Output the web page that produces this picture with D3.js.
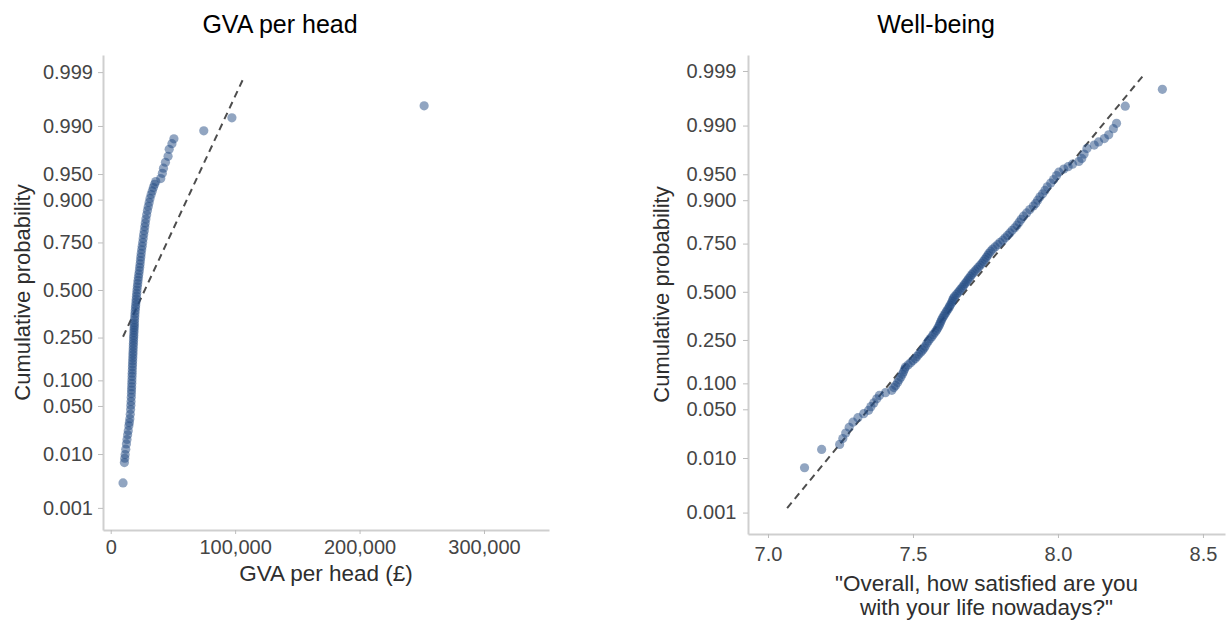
<!DOCTYPE html>
<html><head><meta charset="utf-8">
<script src="https://cdn.jsdelivr.net/npm/d3@7"></script>
<style>
body{margin:0;background:#fff}
svg{display:block}
text{font-family:"Liberation Sans",Arial,sans-serif}
</style>
</head><body>
<svg id="chart" width="1226" height="621"></svg>
<script>
// ---------- data ----------
const probTicks = [0.001, 0.01, 0.05, 0.1, 0.25, 0.5, 0.75, 0.9, 0.95, 0.99, 0.999];
const gvaTicks = [0, 100000, 200000, 300000];
const wellbeingTicks = [7.0, 7.5, 8.0, 8.5];
const panelTitles = ["GVA per head", "Well-being"];
const yTitle = "Cumulative probability";
const gvaXTitle = ["GVA per head (£)"];
const wellbeingXTitle = ["\"Overall, how satisfied are you", "with your life nowadays?\""];

const gvaValues = [
  9900, 11000, 11300, 11600, 12100, 12600, 13100, 13600, 14100, 14600,
  15000, 15400, 15700, 16000, 16200, 16350, 16500, 16650, 16750, 16850,
  16950, 17050, 17150, 17250, 17350, 17450, 17550, 17650, 17750, 17850,
  17950, 18050, 18150, 18250, 18350, 18450, 18550, 18650, 18750, 18850,
  18950, 19050, 19200, 19350, 19500, 19700, 19900, 20100, 20300, 20500,
  20700, 20900, 21100, 21400, 21700, 22000, 22300, 22600, 23000, 23300,
  23600, 23900, 24200, 24500, 24900, 25300, 25700, 26100, 26500, 27000,
  27400, 27800, 28300, 28900, 29500, 30200, 30900, 31600, 32500, 33400,
  34300, 35300, 36200, 40200, 41500, 42400, 44000, 46100, 47000, 49200,
  50800, 74800, 97400, 251900
];
const gvaProbs = [
  .0031, .0072, .0085, .0098, .012, .0145, .017, .020, .023, .027,
  .030, .034, .039, .045, .051, .057, .064, .071, .078, .085,
  .093, .101, .110, .119, .128, .138, .148, .158, .168, .179,
  .190, .201, .213, .225, .237, .249, .261, .273, .285, .297,
  .309, .321, .336, .352, .368, .384, .400, .416, .432, .448,
  .465, .482, .500, .518, .536, .554, .572, .590, .608, .626,
  .644, .662, .680, .698, .716, .733, .750, .767, .784, .800,
  .815, .829, .843, .857, .870, .882, .893, .903, .912, .920,
  .927, .933, .938, .943, .951, .958, .965, .971, .977, .981,
  .984, .988, .9927, .9955
];
const gvaFit = [27400, 26400];        // normal fit: mean, sd
const gvaLineX = [9900, 106600];      // extent of reference line

const wellbeingValues = [
  7.126, 7.185, 7.247, 7.258, 7.268, 7.280, 7.293, 7.310, 7.330, 7.347,
  7.355, 7.365, 7.375, 7.384, 7.405, 7.427, 7.434, 7.440, 7.447, 7.452,
  7.458, 7.463, 7.467, 7.471, 7.474, 7.483, 7.492, 7.500, 7.508, 7.514,
  7.520, 7.527, 7.533, 7.538, 7.542, 7.548, 7.553, 7.559, 7.565, 7.570,
  7.576, 7.581, 7.585, 7.589, 7.592, 7.595, 7.598, 7.601, 7.605, 7.609,
  7.613, 7.617, 7.621, 7.625, 7.628, 7.632, 7.635, 7.637, 7.640, 7.644,
  7.650, 7.655, 7.660, 7.665, 7.670, 7.675, 7.679, 7.684, 7.689, 7.693,
  7.698, 7.703, 7.708, 7.714, 7.720, 7.726, 7.732, 7.738, 7.743, 7.748,
  7.753, 7.758, 7.762, 7.768, 7.775, 7.783, 7.792, 7.800, 7.810, 7.818,
  7.826, 7.834, 7.842, 7.851, 7.859, 7.866, 7.873, 7.881, 7.892, 7.903,
  7.915, 7.923, 7.930, 7.938, 7.947, 7.955, 7.963, 7.975, 7.985, 7.995,
  8.003, 8.020, 8.035, 8.050, 8.072, 8.082, 8.090, 8.100, 8.125, 8.140,
  8.160, 8.175, 8.191, 8.202, 8.232, 8.360
];
const wellbeingProbs = [
  .0069, .0137, .0163, .020, .024, .029, .034, .039, .044, .0485,
  .054, .060, .067, .0735, .079, .084, .090, .095, .102, .109,
  .116, .124, .131, .139, .146, .153, .160, .168, .175, .183,
  .191, .199, .207, .215, .223, .236, .245, .255, .265, .275,
  .285, .295, .305, .315, .325, .335, .345, .355, .365, .375,
  .385, .395, .405, .415, .425, .435, .445, .455, .465, .475,
  .485, .495, .505, .515, .525, .535, .545, .555, .565, .575,
  .585, .595, .605, .615, .625, .635, .645, .655, .665, .675,
  .685, .695, .705, .715, .725, .735, .745, .755, .765, .775,
  .785, .795, .805, .815, .825, .835, .845, .855, .865, .875,
  .885, .892, .900, .908, .915, .922, .929, .936, .942, .948,
  .953, .957, .960, .963, .966, .969, .973, .9776, .980, .982,
  .984, .986, .9888, .9908, .9953, .9977
];
const wellbeingFit = [7.68, 0.2028];
const wellbeingLineX = [7.066, 8.291];

// ---------- helpers ----------
function probit(p) {
  const a=[-3.969683028665376e+01,2.209460984245205e+02,-2.759285104469687e+02,1.383577518672690e+02,-3.066479806614716e+01,2.506628277459239e+00];
  const b=[-5.447609879822406e+01,1.615858368580409e+02,-1.556989798598866e+02,6.680131188771972e+01,-1.328068155288572e+01];
  const c=[-7.784894002430293e-03,-3.223964580411365e-01,-2.400758277161838e+00,-2.549732539343734e+00,4.374664141464968e+00,2.938163982698783e+00];
  const d=[7.784695709041462e-03,3.224671290700398e-01,2.445134137142996e+00,3.754408661907416e+00];
  const pl=0.02425, ph=1-pl; let q, r;
  if (p < pl) { q=Math.sqrt(-2*Math.log(p)); return (((((c[0]*q+c[1])*q+c[2])*q+c[3])*q+c[4])*q+c[5])/((((d[0]*q+d[1])*q+d[2])*q+d[3])*q+1); }
  if (p <= ph) { q=p-0.5; r=q*q; return (((((a[0]*r+a[1])*r+a[2])*r+a[3])*r+a[4])*r+a[5])*q/(((((b[0]*r+b[1])*r+b[2])*r+b[3])*r+b[4])*r+1); }
  q=Math.sqrt(-2*Math.log(1-p)); return -(((((c[0]*q+c[1])*q+c[2])*q+c[3])*q+c[4])*q+c[5])/((((d[0]*q+d[1])*q+d[2])*q+d[3])*q+1);
}

const svg = d3.select("#chart");
const AXIS = "#cfcfcf", TICKTXT = "#454545", TITLE_AX = "#2e2e2e";
const PT = "#234c84";

function drawPanel(cfg) {
  const x = d3.scaleLinear().domain(cfg.xDomain).range(cfg.xRange);
  const y = d3.scaleLinear().domain(cfg.zDomain).range(cfg.yRange);
  const g = svg.append("g");

  // title
  g.append("text").attr("x", cfg.titleX).attr("y", 33).attr("text-anchor", "middle")
    .attr("font-size", 25).attr("fill", "#000").text(cfg.title);

  // y axis
  const yAxis = d3.axisLeft(y).tickValues(probTicks.map(probit))
    .tickFormat((d, i) => d3.format(".3f")(probTicks[i]))
    .tickSize(5).tickSizeOuter(0).tickPadding(cfg.yPad);
  const ya = g.append("g").attr("transform", `translate(${cfg.xRange[0]},0)`).call(yAxis);
  ya.select(".domain").attr("stroke", AXIS).attr("stroke-width", 2);
  ya.selectAll(".tick line").attr("stroke", "#bdbdbd").attr("stroke-width", 1);
  ya.selectAll(".tick text").attr("font-size", 20).attr("fill", TICKTXT)
    .attr("font-family", "Liberation Sans, Arial, sans-serif");

  // x axis
  const xAxis = d3.axisBottom(x).tickValues(cfg.xTicks).tickFormat(cfg.xFormat)
    .tickSize(4).tickSizeOuter(0).tickPadding(cfg.xPad);
  const xa = g.append("g").attr("transform", `translate(0,${cfg.yRange[0]})`).call(xAxis);
  xa.select(".domain").attr("stroke", AXIS).attr("stroke-width", 2);
  xa.selectAll(".tick line").attr("stroke", "#bdbdbd").attr("stroke-width", 1);
  xa.selectAll(".tick text").attr("font-size", 20).attr("fill", TICKTXT)
    .attr("font-family", "Liberation Sans, Arial, sans-serif");

  // reference line (normal fit)
  const line = d3.line().x(d => x(d)).y(d => y((d - cfg.fit[0]) / cfg.fit[1]));
  g.append("path").datum(cfg.lineX).attr("d", line)
    .attr("fill", "none").attr("stroke", "#4d4d4d").attr("stroke-width", 2)
    .attr("stroke-dasharray", "7,5");

  // points
  g.append("g").selectAll("circle").data(cfg.values).join("circle")
    .attr("cx", d => x(d))
    .attr("cy", (d, i) => y(probit(cfg.probs[i])))
    .attr("r", 4.6).attr("fill", PT).attr("fill-opacity", 0.5);

  // axis titles
  g.append("text").attr("transform", `translate(${cfg.yTitleX},${(cfg.yRange[0] + cfg.yRange[1]) / 2}) rotate(-90)`)
    .attr("text-anchor", "middle").attr("font-size", 22).attr("fill", TITLE_AX).text(yTitle);
  const cx = (cfg.xRange[0] + cfg.xRange[1]) / 2;
  cfg.xTitle.forEach((t, i) => {
    g.append("text").attr("x", cx).attr("y", cfg.xTitleY + i * 24).attr("text-anchor", "middle")
      .attr("font-size", 22.5).attr("fill", TITLE_AX).text(t);
  });
}

drawPanel({
  title: panelTitles[0], titleX: 280,
  xDomain: [-6200, 352250], xRange: [103, 549],
  zDomain: [-3.404, 3.333], yRange: [530, 55],
  xTicks: gvaTicks, xFormat: d3.format(","), xPad: 6, yPad: 5,
  values: gvaValues, probs: gvaProbs, fit: gvaFit, lineX: gvaLineX,
  yTitleX: 30, xTitle: gvaXTitle, xTitleY: 581
});
drawPanel({
  title: panelTitles[1], titleX: 936,
  xDomain: [6.931, 8.576], xRange: [748, 1225],
  zDomain: [-3.39, 3.314], yRange: [534, 55],
  xTicks: wellbeingTicks, xFormat: d3.format(".1f"), xPad: 9, yPad: 6.5,
  values: wellbeingValues, probs: wellbeingProbs, fit: wellbeingFit, lineX: wellbeingLineX,
  yTitleX: 669, xTitle: wellbeingXTitle, xTitleY: 591
});
</script>
</body></html>
